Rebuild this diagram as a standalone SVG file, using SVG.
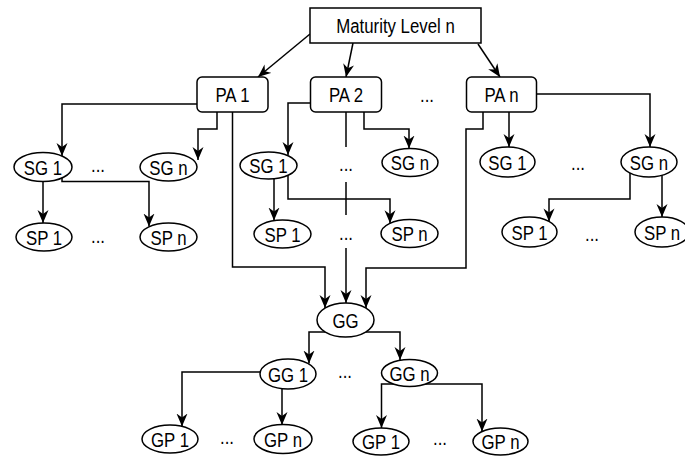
<svg xmlns="http://www.w3.org/2000/svg" width="685" height="460" viewBox="0 0 685 460">
<style>
.n{fill:#fff;stroke:#000;stroke-width:1.5}
.t{font-family:"Liberation Sans",Arial,sans-serif;font-size:21px;fill:#000;text-anchor:middle}
.c{fill:none;stroke:#000;stroke-width:1.5}
.a{marker-end:url(#arr)}
</style>
<defs>
<marker id="arr" markerUnits="userSpaceOnUse" markerWidth="14" markerHeight="12" refX="13" refY="5.5" orient="auto">
<path d="M0,0 L13,5.5 L0,11 L4,5.5 Z" fill="#000"/>
</marker>
</defs>
<rect width="685" height="460" fill="#fff"/>
<g id="connectors">
<path class="c a" d="M310,34 L258,77"/>
<path class="c a" d="M353,43 L346,77"/>
<path class="c a" d="M478,44 L500,77"/>
<path class="c a" d="M197,104 H62 V156"/>
<path class="c a" d="M217,112 V129 H198 V160"/>
<path class="c a" d="M232.5,112 V267 H325 V308"/>
<path class="c a" d="M310.5,103 H288 V155"/>
<path class="c a" d="M364,112 V129 H409 V148.5"/>
<path class="c a" d="M346,112 V303"/>
<path class="c a" d="M536.5,94 H650 V147"/>
<path class="c a" d="M509,112 V147"/>
<path class="c a" d="M483,112 V129 H466 V268 H366 V308"/>
<path class="c a" d="M62,178 V181.5 H149 V226.5"/>
<path class="c a" d="M43,181.5 V223"/>
<path class="c a" d="M274,179 V220.5"/>
<path class="c a" d="M288,175.3 V199 H390 V223.3"/>
<path class="c a" d="M630,173 V199 H549 V221.4"/>
<path class="c a" d="M662,175.3 V217"/>
<path class="c a" d="M325,332 H309 V363.5"/>
<path class="c a" d="M366,332 H400 V360"/>
<path class="c a" d="M260,372 H182 V426.5"/>
<path class="c a" d="M282,389 V425"/>
<path class="c a" d="M395,384 H381.5 V428"/>
<path class="c a" d="M424,384 H482 V431.5"/>
<rect x="336" y="147" width="20" height="35" fill="#fff"/>
<rect x="336" y="215" width="20" height="33" fill="#fff"/>
</g>
<g id="ml"><rect class="n" x="310" y="8" width="171" height="35"/><text class="t" transform="translate(395.5 33) scale(0.8 1)">Maturity Level n</text></g>
<g id="pa1"><rect class="n" x="197" y="77" width="71" height="35" rx="5"/><text class="t" transform="translate(232.5 102) scale(0.8 1)">PA 1</text></g>
<g id="pa2"><rect class="n" x="310.5" y="77" width="71" height="35" rx="5"/><text class="t" transform="translate(346 102) scale(0.8 1)">PA 2</text></g>
<g id="pan"><rect class="n" x="466.5" y="77" width="70" height="35" rx="5"/><text class="t" transform="translate(501.5 102) scale(0.8 1)">PA n</text></g>
<g id="dots-pa"><text class="t" transform="translate(427 102) scale(0.8 1)">...</text></g>

<g id="sg1a"><ellipse class="n" cx="43" cy="167" rx="29" ry="14.5"/><text class="t" transform="translate(43 174.5) scale(0.8 1)">SG 1</text></g>
<g id="sgna"><ellipse class="n" cx="168.5" cy="167" rx="28.5" ry="14"/><text class="t" transform="translate(168.5 174.5) scale(0.8 1)">SG n</text></g>
<g id="dots-sga"><text class="t" transform="translate(98 172) scale(0.8 1)">...</text></g>
<g id="sp1a"><ellipse class="n" cx="44" cy="237" rx="28" ry="14"/><text class="t" transform="translate(44 244.5) scale(0.8 1)">SP 1</text></g>
<g id="spna"><ellipse class="n" cx="168.5" cy="237" rx="28.5" ry="14"/><text class="t" transform="translate(168.5 244.5) scale(0.8 1)">SP n</text></g>
<g id="dots-spa"><text class="t" transform="translate(98 243) scale(0.8 1)">...</text></g>

<g id="sg1b"><ellipse class="n" cx="268.5" cy="165.5" rx="28.5" ry="13.5"/><text class="t" transform="translate(268.5 173) scale(0.8 1)">SG 1</text></g>
<g id="sgnb"><ellipse class="n" cx="410" cy="162.5" rx="28" ry="14"/><text class="t" transform="translate(410 170) scale(0.8 1)">SG n</text></g>
<g id="dots-sgb"><text class="t" transform="translate(346 171) scale(0.8 1)">...</text></g>
<g id="sp1b"><ellipse class="n" cx="282.5" cy="234" rx="28.5" ry="14"/><text class="t" transform="translate(282.5 241.5) scale(0.8 1)">SP 1</text></g>
<g id="spnb"><ellipse class="n" cx="409.5" cy="233.5" rx="28.5" ry="14"/><text class="t" transform="translate(409.5 241) scale(0.8 1)">SP n</text></g>
<g id="dots-spb"><text class="t" transform="translate(346 240) scale(0.8 1)">...</text></g>

<g id="sg1c"><ellipse class="n" cx="507.5" cy="162" rx="27.5" ry="15"/><text class="t" transform="translate(507.5 169.5) scale(0.8 1)">SG 1</text></g>
<g id="sgnc"><ellipse class="n" cx="649" cy="162" rx="28" ry="15"/><text class="t" transform="translate(649 169.5) scale(0.8 1)">SG n</text></g>
<g id="dots-sgc"><text class="t" transform="translate(578 170) scale(0.8 1)">...</text></g>
<g id="sp1c"><ellipse class="n" cx="529.5" cy="232" rx="27.5" ry="15"/><text class="t" transform="translate(529.5 239.5) scale(0.8 1)">SP 1</text></g>
<g id="spnc"><ellipse class="n" cx="662" cy="232" rx="27" ry="15"/><text class="t" transform="translate(662 239.5) scale(0.8 1)">SP n</text></g>
<g id="dots-spc"><text class="t" transform="translate(592 241) scale(0.8 1)">...</text></g>

<g id="gg"><ellipse class="n" cx="345.5" cy="320" rx="28.5" ry="17"/><text class="t" transform="translate(345.5 327.5) scale(0.8 1)">GG</text></g>
<g id="gg1"><ellipse class="n" cx="288" cy="374" rx="28" ry="15"/><text class="t" transform="translate(288 381.5) scale(0.8 1)">GG 1</text></g>
<g id="ggn"><ellipse class="n" cx="409.5" cy="373" rx="28" ry="13.5"/><text class="t" transform="translate(409.5 380.5) scale(0.8 1)">GG n</text></g>
<g id="dots-gg"><text class="t" transform="translate(345 378) scale(0.8 1)">...</text></g>
<g id="gp1a"><ellipse class="n" cx="170" cy="439" rx="28" ry="14"/><text class="t" transform="translate(170 446.5) scale(0.8 1)">GP 1</text></g>
<g id="gpna"><ellipse class="n" cx="283" cy="439" rx="29" ry="14.5"/><text class="t" transform="translate(283 446.5) scale(0.8 1)">GP n</text></g>
<g id="dots-gpa"><text class="t" transform="translate(227 444) scale(0.8 1)">...</text></g>
<g id="gp1b"><ellipse class="n" cx="381" cy="441.5" rx="28" ry="13.5"/><text class="t" transform="translate(381 449) scale(0.8 1)">GP 1</text></g>
<g id="gpnb"><ellipse class="n" cx="500.5" cy="441.5" rx="27.5" ry="13.5"/><text class="t" transform="translate(500.5 449) scale(0.8 1)">GP n</text></g>
<g id="dots-gpb"><text class="t" transform="translate(440 445) scale(0.8 1)">...</text></g>
</svg>
